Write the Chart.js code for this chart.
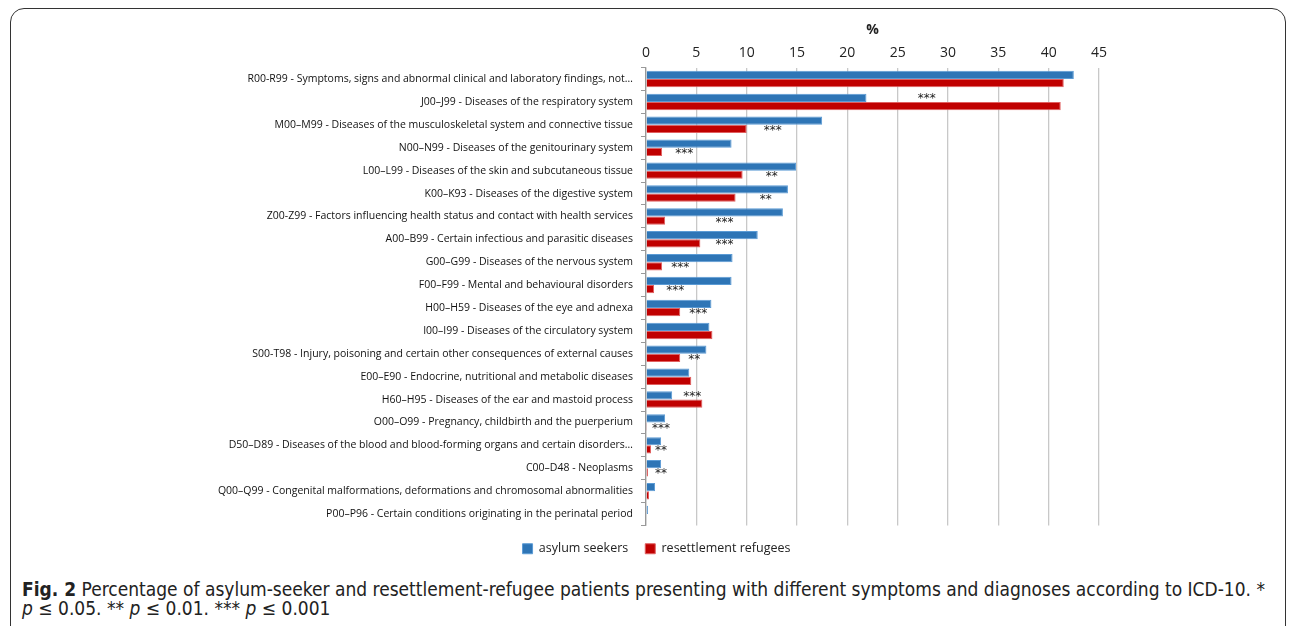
<!DOCTYPE html>
<html>
<head>
<meta charset="utf-8">
<script src="https://cdn.jsdelivr.net/npm/chart.js"></script>
<style>
  html, body { margin: 0; padding: 0; background: #fff; width: 1292px; height: 626px; overflow: hidden; }
  .frame { position: absolute; left: 10px; top: 8px; width: 1274px; height: 700px; border: 1.5px solid #333; border-radius: 14px; }
  .chart { position: absolute; left: 12px; top: 10px; width: 1270px; height: 556px; }
  .caption { position: absolute; left: 22px; top: 580px; width: 1262px; font-family: "DejaVu Sans Condensed", "Liberation Sans Narrow", sans-serif; font-stretch: condensed; font-size: 19px; line-height: 19px; color: #222; }
  .caption b { font-weight: bold; }
</style>
</head>
<body>
<div class="frame"></div>
<div class="chart"><canvas id="c"></canvas></div>
<div class="caption"><b>Fig. 2</b> Percentage of asylum-seeker and resettlement-refugee patients presenting with different symptoms and diagnoses according to ICD-10. *<br><i>p</i> ≤ 0.05. ** <i>p</i> ≤ 0.01. *** <i>p</i> ≤ 0.001</div>
<script>
const categories = [
  "R00-R99 - Symptoms, signs and abnormal clinical and laboratory findings, not…",
  "J00–J99 - Diseases of the respiratory system",
  "M00–M99 - Diseases of the musculoskeletal system and connective tissue",
  "N00–N99 - Diseases of the genitourinary system",
  "L00–L99 - Diseases of the skin and subcutaneous tissue",
  "K00–K93 - Diseases of the digestive system",
  "Z00-Z99 - Factors influencing health status and contact with health services",
  "A00–B99 - Certain infectious and parasitic diseases",
  "G00–G99 - Diseases of the nervous system",
  "F00–F99 - Mental and behavioural disorders",
  "H00–H59 - Diseases of the eye and adnexa",
  "I00–I99 - Diseases of the circulatory system",
  "S00-T98 - Injury, poisoning and certain other consequences of external causes",
  "E00–E90 - Endocrine, nutritional and metabolic diseases",
  "H60–H95 - Diseases of the ear and mastoid process",
  "O00–O99 - Pregnancy, childbirth and the puerperium",
  "D50–D89 - Diseases of the blood and blood-forming organs and certain disorders…",
  "C00–D48 - Neoplasms",
  "Q00–Q99 - Congenital malformations, deformations and chromosomal abnormalities",
  "P00–P96 - Certain conditions originating in the perinatal period"
];
const asylumSeekers = [42.5, 21.9, 17.5, 8.5, 14.9, 14.1, 13.6, 11.1, 8.6, 8.5, 6.5, 6.3, 6.0, 4.3, 2.6, 1.9, 1.5, 1.5, 0.9, 0.2];
const resettlementRefugees = [41.5, 41.2, 10.0, 1.6, 9.6, 8.9, 1.9, 5.4, 1.6, 0.8, 3.4, 6.6, 3.4, 4.5, 5.6, 0.1, 0.5, 0.2, 0.3, 0];
// significance marks and the value where they sit
const stars = ["", "***", "***", "***", "**", "**", "***", "***", "***", "***", "***", "", "**", "", "***", "***", "**", "**", "", ""];
const starAt = [0, 27.9, 12.6, 3.8, 12.5, 11.9, 7.8, 7.8, 3.4, 2.9, 5.2, 0, 4.8, 0, 4.6, 1.5, 1.5, 1.5, 0, 0];
const xTicks = [0, 5, 10, 15, 20, 25, 30, 35, 40, 45];

const FONT = "'Open Sans', 'DejaVu Sans', sans-serif";

const starPlugin = {
  id: "stars",
  afterDatasetsDraw(chart) {
    const ctx = chart.ctx;
    const xs = chart.scales.x, ys = chart.scales.y;
    ctx.save();
    ctx.fillStyle = "#222";
    ctx.font = "12px 'DejaVu Sans', sans-serif";
    ctx.textAlign = "center";
    ctx.textBaseline = "middle";
    stars.forEach((s, i) => {
      if (!s) return;
      const x = xs.getPixelForValue(starAt[i]);
      // put the stars beside the blue bar if they would hit the red one
      const dy = starAt[i] < resettlementRefugees[i] ? -3 : 6;
      ctx.fillText(s, x, ys.getPixelForValue(i) + dy);
    });
    ctx.restore();
  }
};

new Chart(document.getElementById("c"), {
  type: "bar",
  data: {
    labels: categories,
    datasets: [
      { label: "asylum seekers", data: asylumSeekers, backgroundColor: "#2e75b6", borderColor: "#5b9bd5", borderWidth: 1, categoryPercentage: 0.72, barPercentage: 1 },
      { label: "resettlement refugees", data: resettlementRefugees, backgroundColor: "#c00000", borderColor: "#e06060", borderWidth: 1, categoryPercentage: 0.72, barPercentage: 1 }
    ]
  },
  options: {
    indexAxis: "y",
    responsive: true,
    maintainAspectRatio: false,
    animation: false,
    layout: { padding: { top: 12, right: 183, bottom: 1, left: 202 } },
    plugins: {
      legend: {
        position: "bottom",
        labels: { boxWidth: 10, boxHeight: 10, padding: 17, color: "#222", font: { family: FONT, size: 12.5 } }
      },
      tooltip: { enabled: false }
    },
    scales: {
      x: {
        position: "top",
        min: 0, max: 45,
        afterBuildTicks: (s) => { s.ticks = xTicks.map(v => ({ value: v })); },
        title: { display: true, text: "%", color: "#222", font: { family: FONT, size: 14, weight: "bold" }, padding: { top: 0, bottom: 0 } },
        ticks: { color: "#222", font: { family: FONT, size: 14 }, padding: 6 },
        grid: { color: "#c8c8c8", lineWidth: 1.3, drawTicks: false },
        border: { display: false }
      },
      y: {
        afterFit: (s) => { s.width = 432; },
        ticks: { color: "#111", font: { family: FONT, size: 10.5 }, padding: 8, autoSkip: false },
        grid: { display: true, drawOnChartArea: false, offset: true, tickLength: 5, color: "#999" },
        border: { color: "#999", width: 1.3 }
      }
    }
  },
  plugins: [starPlugin]
});
</script>
</body>
</html>
